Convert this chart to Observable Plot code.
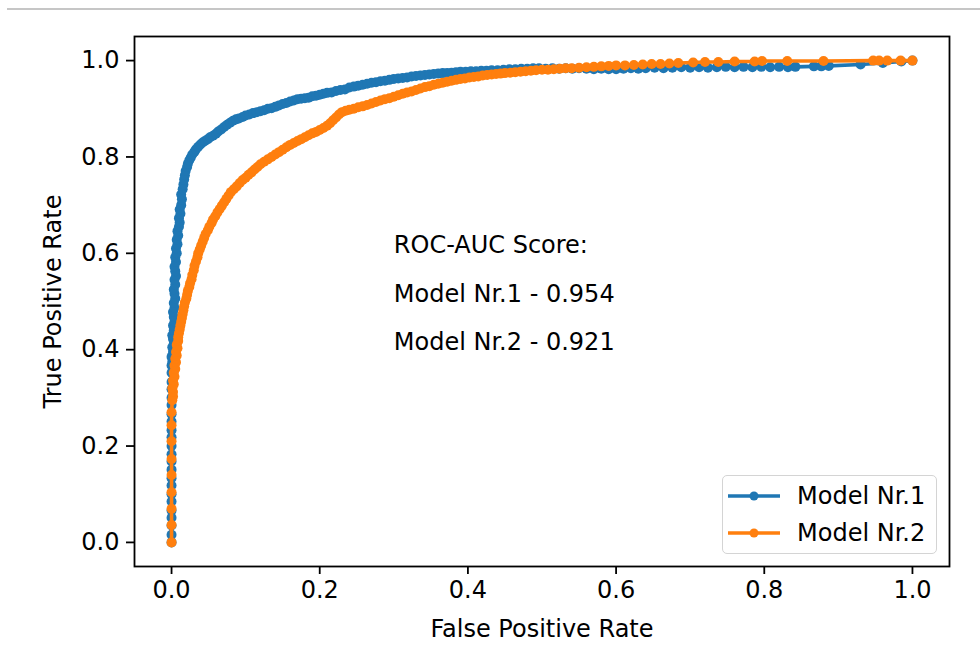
<!DOCTYPE html>
<html>
<head>
<meta charset="utf-8">
<script src="https://cdn.jsdelivr.net/npm/d3@7"></script>
<script src="https://cdn.jsdelivr.net/npm/@observablehq/plot@0.6"></script>
<style>
  html, body { margin: 0; padding: 0; background: #fff; }
  #wrap { position: relative; width: 980px; height: 654px; font-family: "DejaVu Sans", sans-serif; }
  #rule { position: absolute; top: 8px; left: 7px; right: 0; height: 1.5px; background: #c6c6c6; }
  #legend { position: absolute; left: 722px; top: 475px; width: 215px; height: 79px; box-sizing: border-box;
            border: 1px solid #d4d4d4; border-radius: 5px; background: rgba(255,255,255,0.8); }
  .entry { position: absolute; left: 5px; height: 30px; display: flex; align-items: center; font-size: 24px; color: #000; }
  .entry svg { margin-right: 17px; }
</style>
</head>
<body>
<div id="wrap"><div id="rule"></div></div>
<script>
// ROC curve points [false positive rate, true positive rate]
const model1Points = [
  [0,0],[0,0.016],[0,0.035],[0,0.051],[0,0.066],[0,0.085],[0,0.1],[0,0.118],[0,0.133],[0,0.151],[0,0.168],[0,0.183],
  [0,0.2],[0,0.218],[0,0.233],[0,0.251],[0,0.266],[0,0.285],[0,0.3],[0,0.318],[0,0.333],[0,0.352],[0,0.367],
  [0.001,0.375],[0,0.385],[0.002,0.395],[0.001,0.405],[0.003,0.412],[0.002,0.422],[0.001,0.43],[0.003,0.44],[0.002,0.45],
  [0.004,0.458],[0.003,0.468],[0.002,0.478],[0.004,0.487],[0.003,0.497],[0.005,0.506],[0.004,0.516],[0.003,0.525],
  [0.005,0.535],[0.004,0.545],[0.006,0.553],[0.005,0.563],[0.004,0.572],[0.006,0.582],[0.005,0.592],[0.007,0.6],
  [0.006,0.61],[0.008,0.619],[0.007,0.628],[0.009,0.637],[0.008,0.646],[0.010,0.655],[0.011,0.664],[0.010,0.673],
  [0.012,0.682],[0.011,0.691],[0.013,0.7],[0.014,0.712],[0.013,0.722],[0.015,0.733],[0.016,0.743],[0.017,0.753],
  [0.018,0.762],[0.019,0.771],[0.021,0.779],[0.022,0.786],[0.024,0.793],[0.026,0.799],[0.028,0.805],[0.031,0.811],
  [0.033,0.816],[0.036,0.821],[0.039,0.826],[0.042,0.83],[0.045,0.833],[0.049,0.837],[0.052,0.841],[0.056,0.844],
  [0.06,0.848],[0.063,0.853],[0.067,0.857],[0.071,0.862],[0.075,0.867],[0.079,0.871],[0.083,0.875],[0.087,0.878],
  [0.091,0.88],[0.096,0.883],[0.1,0.886],[0.105,0.888],[0.11,0.891],[0.115,0.893],[0.12,0.895],[0.125,0.897],
  [0.13,0.9],[0.135,0.901],[0.14,0.904],[0.145,0.907],[0.15,0.91],[0.155,0.912],[0.16,0.915],[0.165,0.917],
  [0.17,0.92],[0.175,0.921],[0.18,0.922],[0.185,0.923],[0.19,0.926],[0.195,0.927],[0.2,0.929],[0.205,0.931],
  [0.21,0.933],[0.216,0.934],[0.222,0.937],[0.228,0.939],[0.234,0.94],[0.24,0.944],[0.246,0.946],[0.252,0.948],
  [0.258,0.95],[0.264,0.952],[0.27,0.954],[0.276,0.955],[0.282,0.957],[0.288,0.958],[0.294,0.96],[0.3,0.962],
  [0.306,0.963],[0.312,0.964],[0.318,0.965],[0.324,0.967],[0.33,0.968],[0.336,0.969],[0.342,0.97],[0.348,0.971],
  [0.354,0.972],[0.36,0.973],[0.366,0.974],[0.372,0.974],[0.378,0.975],[0.384,0.976],[0.39,0.977],[0.397,0.977],
  [0.404,0.978],[0.411,0.978],[0.418,0.979],[0.425,0.979],[0.432,0.98],[0.44,0.98],[0.448,0.981],[0.456,0.982],
  [0.464,0.982],[0.472,0.983],[0.48,0.983],[0.488,0.984],[0.496,0.984],[0.505,0.983],[0.514,0.984],[0.523,0.983],
  [0.532,0.984],[0.541,0.983],[0.55,0.984],[0.56,0.983],[0.57,0.982],[0.58,0.983],[0.59,0.982],[0.6,0.982],
  [0.61,0.983],[0.62,0.984],[0.63,0.983],[0.64,0.984],[0.652,0.985],[0.664,0.984],[0.676,0.985],[0.688,0.986],
  [0.7,0.985],[0.712,0.986],[0.724,0.985],[0.736,0.986],[0.748,0.987],[0.76,0.986],[0.772,0.987],[0.784,0.986],
  [0.796,0.987],[0.808,0.986],[0.82,0.987],[0.832,0.986],[0.842,0.987],[0.867,0.988],[0.877,0.988],[0.887,0.989],
  [0.93,0.992],[0.96,0.995],[0.985,0.998],[1.0,1.0]
];

const model2Points = [
  [0,0],[0,0.036],[0,0.07],[0,0.104],[0,0.14],[0,0.173],[0,0.21],[0,0.243],[0,0.27],
  [0.001,0.295],[0.002,0.303],[0.002,0.312],[0.001,0.32],[0.003,0.328],[0.002,0.336],[0.004,0.344],[0.003,0.352],
  [0.005,0.36],[0.004,0.367],[0.006,0.374],[0.005,0.381],[0.007,0.388],[0.006,0.395],[0.008,0.403],[0.007,0.41],
  [0.009,0.418],[0.009,0.426],[0.01,0.434],[0.011,0.442],[0.012,0.45],[0.013,0.458],[0.014,0.466],[0.015,0.474],
  [0.016,0.482],[0.017,0.49],[0.018,0.498],[0.02,0.506],[0.021,0.514],[0.022,0.522],[0.024,0.53],[0.025,0.538],
  [0.027,0.546],[0.028,0.555],[0.03,0.565],[0.031,0.574],[0.033,0.583],[0.035,0.592],[0.036,0.6],[0.038,0.608],
  [0.04,0.616],[0.042,0.624],[0.044,0.632],[0.046,0.64],[0.049,0.648],[0.051,0.655],[0.054,0.663],[0.056,0.67],
  [0.059,0.677],[0.062,0.685],[0.065,0.692],[0.068,0.699],[0.071,0.706],[0.074,0.713],[0.077,0.72],[0.08,0.727],
  [0.084,0.733],[0.088,0.739],[0.092,0.746],[0.096,0.752],[0.1,0.757],[0.104,0.763],[0.108,0.768],[0.112,0.774],
  [0.116,0.779],[0.12,0.785],[0.125,0.79],[0.13,0.795],[0.135,0.8],[0.14,0.805],[0.145,0.81],[0.15,0.815],
  [0.155,0.82],[0.16,0.825],[0.165,0.829],[0.17,0.833],[0.175,0.837],[0.18,0.841],[0.185,0.845],[0.19,0.849],
  [0.195,0.852],[0.2,0.856],[0.205,0.86],[0.21,0.865],[0.214,0.87],[0.218,0.876],[0.222,0.882],[0.226,0.888],
  [0.23,0.893],[0.235,0.896],[0.24,0.898],[0.246,0.9],[0.252,0.903],[0.258,0.905],[0.264,0.908],[0.27,0.911],
  [0.276,0.914],[0.282,0.917],[0.288,0.92],[0.294,0.922],[0.3,0.925],[0.306,0.928],[0.312,0.931],[0.318,0.934],
  [0.324,0.936],[0.33,0.939],[0.336,0.942],[0.342,0.945],[0.348,0.947],[0.354,0.95],[0.36,0.952],[0.366,0.954],
  [0.372,0.956],[0.378,0.958],[0.384,0.96],[0.39,0.962],[0.396,0.963],[0.402,0.965],[0.408,0.966],[0.414,0.967],
  [0.42,0.969],[0.426,0.97],[0.432,0.971],[0.438,0.972],[0.444,0.973],[0.45,0.974],[0.457,0.975],[0.464,0.976],
  [0.471,0.977],[0.478,0.978],[0.485,0.979],[0.492,0.98],[0.5,0.981],[0.508,0.981],[0.516,0.982],[0.524,0.983],
  [0.532,0.984],[0.54,0.984],[0.55,0.985],[0.56,0.986],[0.57,0.987],[0.58,0.988],[0.59,0.989],[0.6,0.99],
  [0.612,0.99],[0.624,0.991],[0.636,0.992],[0.648,0.993],[0.66,0.993],[0.672,0.994],[0.684,0.995],[0.704,0.996],
  [0.72,0.997],[0.738,0.997],[0.76,0.998],[0.787,0.998],[0.797,0.999],[0.831,0.999],[0.88,0.999],
  [0.947,1],[0.955,1],[0.966,1],[0.984,1],[1,1]
];

const modelNames = ["Model Nr.1", "Model Nr.2"];
const modelColors = ["#1f77b4", "#ff7f0e"];
const aucScores = [0.954, 0.921];
const tickValues = [0, 0.2, 0.4, 0.6, 0.8, 1.0];
const xLabel = "False Positive Rate";
const yLabel = "True Positive Rate";
const scoreTitle = "ROC-AUC Score:";
const scoreTextX = 0.3;
const scoreTextY = [0.6, 0.5, 0.4];

const series = [model1Points, model2Points].map((pts, k) =>
  pts.map(([fpr, tpr]) => ({model: modelNames[k], fpr, tpr})));

const scoreLines = [scoreTitle, ...modelNames.map((m, i) => `${m} - ${aucScores[i].toFixed(3)}`)]
  .map((label, i) => ({label, x: scoreTextX, y: scoreTextY[i]}));

const FONT = 24;

const chart = Plot.plot({
  width: 980,
  height: 654,
  marginLeft: 134,
  marginRight: 31,
  marginTop: 36,
  marginBottom: 88,
  style: {fontFamily: "'DejaVu Sans', sans-serif", fontSize: FONT + "px", color: "#000", background: "transparent", overflow: "visible"},
  x: {domain: [-0.05, 1.05]},
  y: {domain: [-0.05, 1.05]},
  color: {domain: modelNames, range: modelColors},
  marks: [
    Plot.axisX({ticks: tickValues, tickFormat: d3.format(".1f"), tickSize: 8, tickPadding: 6, strokeWidth: 1.8, label: null, fontSize: FONT}),
    Plot.axisY({ticks: tickValues, tickFormat: d3.format(".1f"), tickSize: 8, tickPadding: 7, strokeWidth: 1.8, label: null, fontSize: FONT}),
    // each model: connecting line first, then its point markers, so the later model sits on top
    ...series.flatMap(rows => [
      Plot.line(rows, {x: "fpr", y: "tpr", stroke: "model", strokeWidth: 3.6, strokeLinejoin: "round"}),
      Plot.dot(rows, {x: "fpr", y: "tpr", fill: "model", r: 5})
    ]),
    Plot.text(scoreLines, {x: "x", y: "y", text: "label", textAnchor: "start", lineAnchor: "bottom", fontSize: FONT, fill: "#000"}),
    Plot.text([xLabel], {frameAnchor: "bottom", dy: 63, textAnchor: "middle", lineAnchor: "middle", fontSize: FONT, fill: "#000"}),
    Plot.text([yLabel], {frameAnchor: "left", dx: -81, rotate: -90, textAnchor: "middle", lineAnchor: "middle", fontSize: FONT, fill: "#000"}),
    Plot.frame({stroke: "#000", strokeWidth: 1.8})
  ]
});

const wrap = document.getElementById("wrap");
wrap.insertBefore(chart, wrap.firstChild);
chart.style.position = "absolute";
chart.style.left = "0";
chart.style.top = "0";

// legend with line-and-marker swatches
const legend = document.createElement("div");
legend.id = "legend";
modelNames.forEach((name, i) => {
  const entry = document.createElement("div");
  entry.className = "entry";
  entry.style.top = (i === 0 ? 5 : 42) + "px";
  const color = modelColors[i];
  entry.innerHTML = `<svg width="52" height="12"><line x1="0" y1="6" x2="52" y2="6" stroke="${color}" stroke-width="3.6"/><circle cx="26" cy="6" r="4.5" fill="${color}"/></svg><span>${name}</span>`;
  legend.appendChild(entry);
});
wrap.appendChild(legend);
</script>
</body>
</html>
